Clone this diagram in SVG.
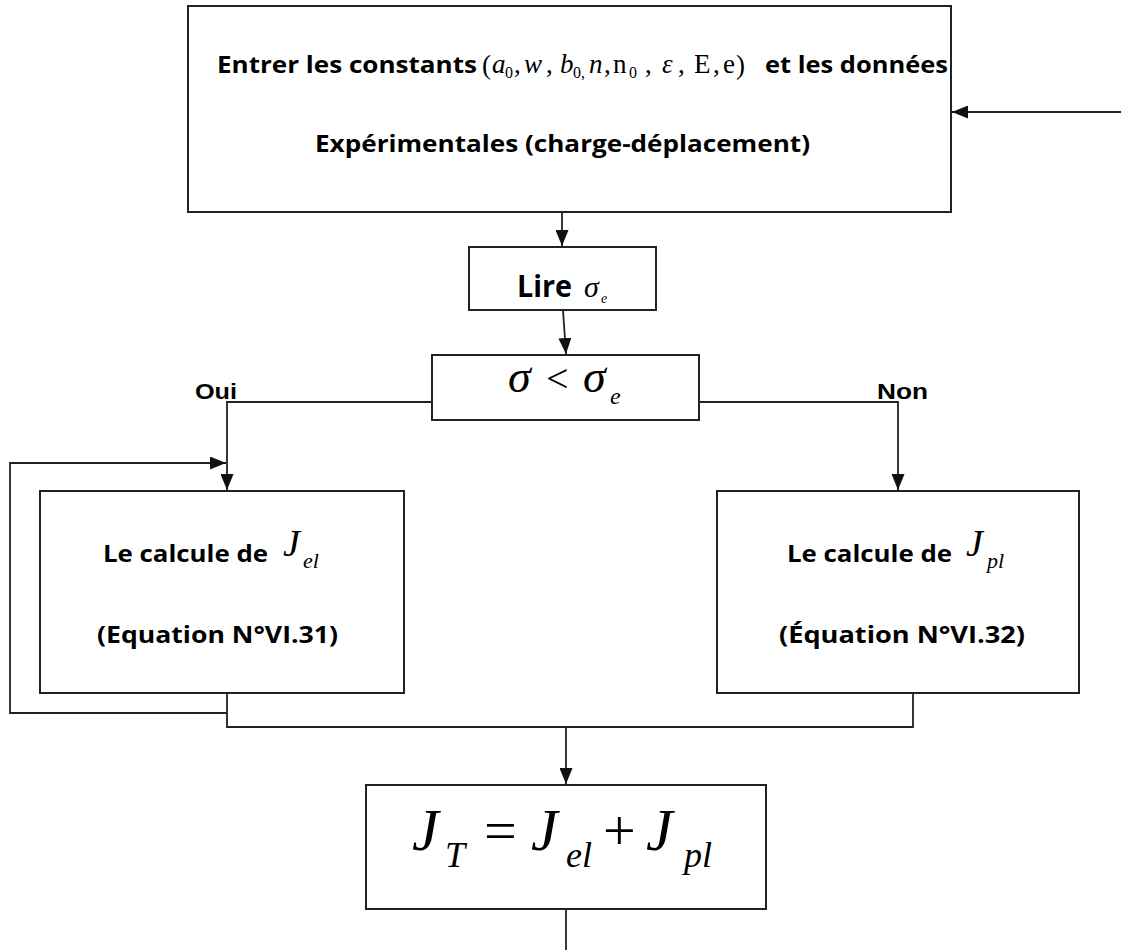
<svg xmlns="http://www.w3.org/2000/svg" width="1121" height="950" viewBox="0 0 1121 950">
<style>
.box{fill:#fff;stroke:#222;stroke-width:2}
.ln{fill:none;stroke:#222;stroke-width:1.8}
.lbl{font-family:"Open Sans","Liberation Sans",sans-serif;font-weight:bold;fill:#000}
.yn{font-family:"Liberation Sans",Arial,sans-serif;font-weight:bold;fill:#000;font-size:22px}
.m{font-family:"Liberation Serif","Times New Roman",serif;fill:#000}
.i{font-style:italic}
.sb{font-size:16px}
</style>
<defs>
<marker id="ah" markerUnits="userSpaceOnUse" markerWidth="16" markerHeight="13" refX="16" refY="6.5" orient="auto">
<path d="M0,0 L16,6.5 L0,13 z" fill="#111"/>
</marker>
</defs>
<rect width="1121" height="950" fill="#fff"/>
<g id="connectors">
<path class="ln" d="M1121,112 L952,112" marker-end="url(#ah)"/>
<path class="ln" d="M562,212 L562,246" marker-end="url(#ah)"/>
<path class="ln" d="M563,310 L566,354" marker-end="url(#ah)"/>
<path class="ln" d="M432,402 L227,402 L227,490" marker-end="url(#ah)"/>
<path class="ln" d="M699,402 L898,402 L898,490" marker-end="url(#ah)"/>
<path class="ln" d="M227,713 L10,713 L10,463 L226,463" marker-end="url(#ah)"/>
<path class="ln" d="M227,693 L227,727 L913,727 L913,693"/>
<path class="ln" d="M566,727 L566,784" marker-end="url(#ah)"/>
<path class="ln" d="M566,909 L566,950"/>
</g>
<g id="node-input">
<rect class="box" x="188" y="6" width="763" height="206"/>
<text class="lbl" x="217" y="73" font-size="23" textLength="260" lengthAdjust="spacingAndGlyphs">Entrer les constants</text>
<g class="m" font-size="27">
<text x="482" y="74">(</text>
<text class="i" x="492" y="73">a</text><text class="sb" x="505" y="78">0</text><text x="514" y="73">,</text>
<text class="i" x="524" y="73">w</text><text x="546" y="73">,</text>
<text class="i" x="560" y="73">b</text><text class="sb" x="573" y="78">0,</text>
<text class="i" x="589" y="73">n</text><text x="604" y="73">,</text>
<text x="613" y="73">n</text><text class="sb" x="629" y="78">0</text><text x="645" y="73">,</text>
<text class="i" x="662" y="73">ε</text><text x="678" y="73">,</text>
<text x="694" y="73">E</text><text x="713" y="73">,</text>
<text x="723" y="73">e</text>
<text x="736" y="74">)</text>
</g>
<text class="lbl" x="765" y="73" font-size="23" textLength="183" lengthAdjust="spacingAndGlyphs">et les données</text>
<text class="lbl" x="315" y="152" font-size="23" textLength="495" lengthAdjust="spacingAndGlyphs">Expérimentales (charge-déplacement)</text>
</g>
<g id="node-lire">
<rect class="box" x="469" y="247" width="187" height="63"/>
<text class="lbl" x="517" y="297" font-size="30" textLength="55" lengthAdjust="spacingAndGlyphs">Lire</text>
<text class="m i" x="584" y="297" font-size="30">σ</text>
<text class="m i" x="601" y="303" font-size="14">e</text>
</g>
<g id="node-decision">
<rect class="box" x="432" y="355" width="267" height="65"/>
<text class="m i" x="508" y="392" font-size="46">σ</text>
<text class="m" x="546" y="392" font-size="40">&lt;</text>
<text class="m i" x="583" y="392" font-size="46">σ</text>
<text class="m i" x="610" y="404" font-size="24">e</text>
</g>
<text class="yn" x="195" y="399" textLength="42" lengthAdjust="spacingAndGlyphs">Oui</text>
<text class="yn" x="877" y="399" textLength="51" lengthAdjust="spacingAndGlyphs">Non</text>
<g id="node-jel">
<rect class="box" x="40" y="491" width="364" height="202"/>
<text class="lbl" x="103" y="562" font-size="24" textLength="165" lengthAdjust="spacingAndGlyphs">Le calcule de</text>
<text class="m i" x="283" y="556" font-size="38">J</text>
<text class="m i" x="303" y="568" font-size="22">el</text>
<text class="lbl" x="97" y="643" font-size="24" textLength="241" lengthAdjust="spacingAndGlyphs">(Equation N°VI.31)</text>
</g>
<g id="node-jpl">
<rect class="box" x="717" y="491" width="362" height="202"/>
<text class="lbl" x="787" y="562" font-size="24" textLength="165" lengthAdjust="spacingAndGlyphs">Le calcule de</text>
<text class="m i" x="966" y="556" font-size="38">J</text>
<text class="m i" x="987" y="568" font-size="22">pl</text>
<text class="lbl" x="779" y="643" font-size="24" textLength="246" lengthAdjust="spacingAndGlyphs">(Équation N°VI.32)</text>
</g>
<g id="node-jt">
<rect class="box" x="366" y="785" width="400" height="124"/>
<g class="m">
<text class="i" x="412" y="850" font-size="60">J</text>
<text class="i" x="445" y="867" font-size="36">T</text>
<text x="484" y="850" font-size="58">=</text>
<text class="i" x="531" y="850" font-size="60">J</text>
<text class="i" x="566" y="867" font-size="36">el</text>
<text x="603" y="850" font-size="58">+</text>
<text class="i" x="646" y="850" font-size="60">J</text>
<text class="i" x="684" y="867" font-size="36">pl</text>
</g>
</g>
</svg>
